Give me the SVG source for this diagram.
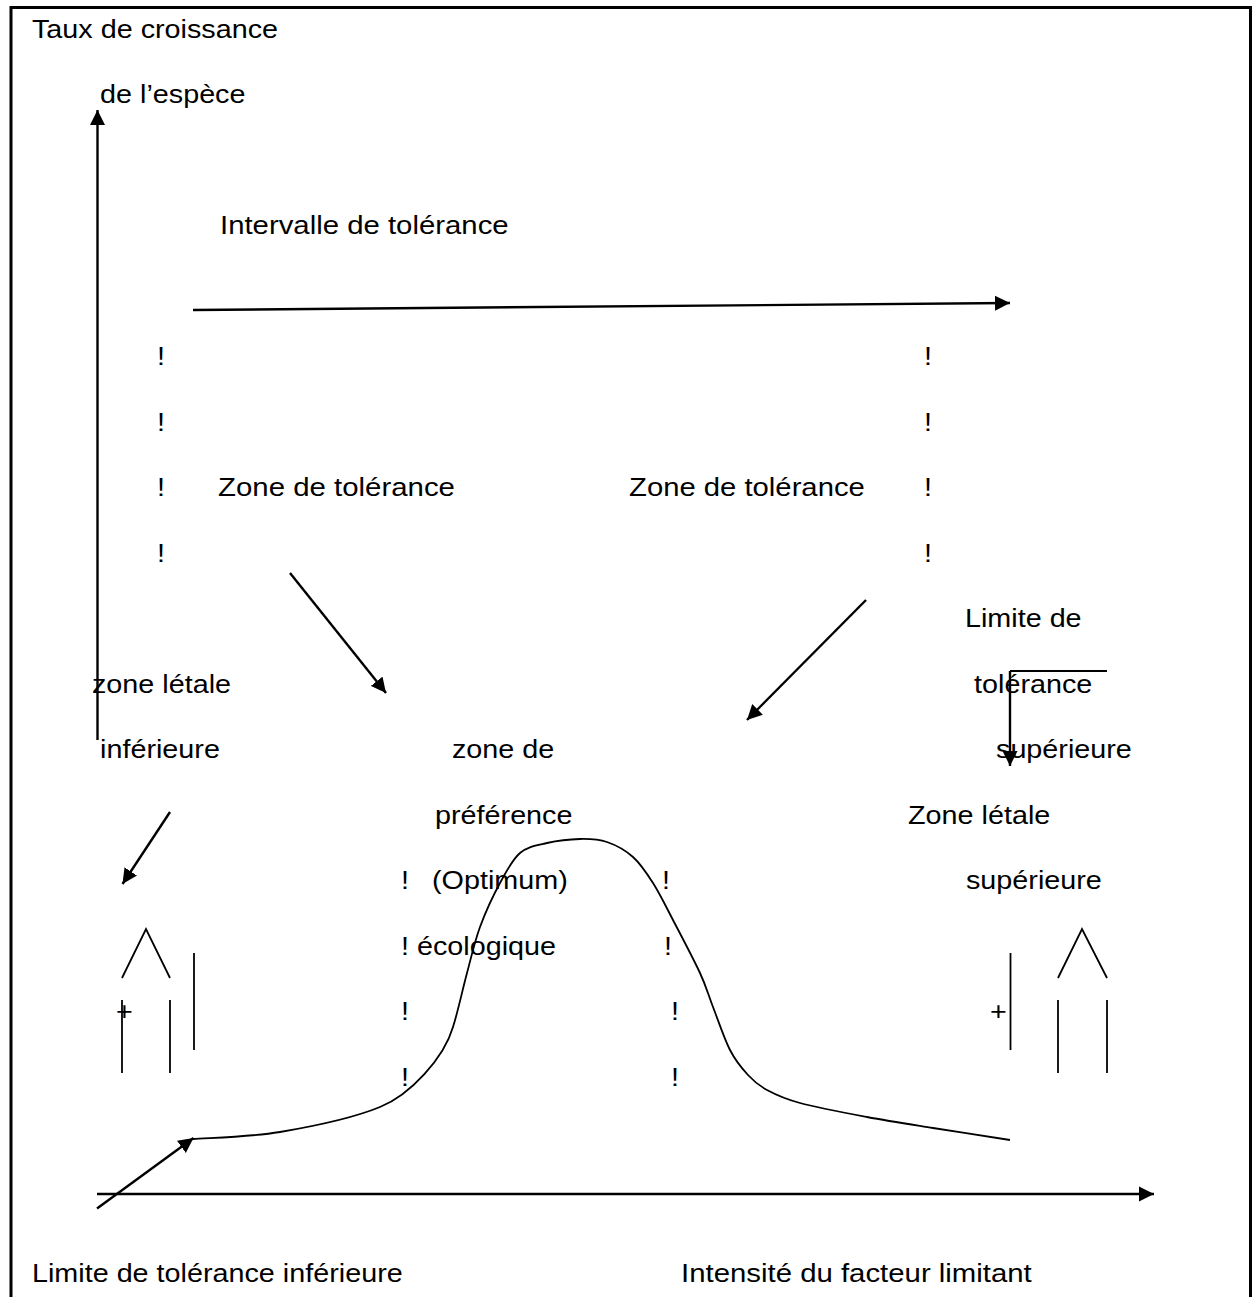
<svg xmlns="http://www.w3.org/2000/svg" width="1252" height="1297" viewBox="0 0 1252 1297">
  <style>
    text { font-family: "Liberation Sans", Arial, sans-serif; font-size: 25px; fill: #000; }
    .thin { fill: none; stroke: #000; stroke-width: 1.8; }
    .arr { fill: none; stroke: #000; stroke-width: 2.4; marker-end: url(#head); }
  </style>
  <defs>
    <marker id="head" markerUnits="userSpaceOnUse" markerWidth="16" markerHeight="16" viewBox="0 0 16 16" refX="15" refY="8" orient="auto">
      <path d="M0,0.5 L15,8 L0,15.5 z" fill="#000"/>
    </marker>
  </defs>
  <rect width="1252" height="1297" fill="#fff"/>

  <!-- page frame (bottom edge falls outside the page) -->
  <path d="M11,1297 V7.5 H1250.5 V1297" fill="none" stroke="#000" stroke-width="3"/>

  <!-- axes, arrows and bracket -->
  <g id="connectors">
    <line class="arr" x1="97.5" y1="740" x2="97.5" y2="110"/>
    <line class="arr" x1="97" y1="1194" x2="1154" y2="1194"/>
    <line class="arr" x1="193" y1="310" x2="1010" y2="303"/>
    <line class="arr" x1="290" y1="573" x2="386" y2="693"/>
    <line class="arr" x1="866" y1="600" x2="747" y2="720"/>
    <line class="arr" x1="170" y1="812" x2="122.5" y2="884"/>
    <line class="arr" x1="97" y1="1208.5" x2="193.5" y2="1138"/>
    <line class="thin" x1="1010" y1="671" x2="1107" y2="671"/>
    <line class="arr" x1="1010" y1="671" x2="1010" y2="766"/>
  </g>

  <!-- growth curve -->
  <g id="curve">
    <path class="thin" d="M193,1139 C207.5,1137.8 248.8,1137.3 280,1132 C311.2,1126.7 353.8,1117.8 380,1107 C410,1095 444,1058 453,1027 C458,1011.3 462.5,989.7 467,973 C471.5,956.3 474.5,942 480,927 C485.5,912 493.3,895.3 500,883 C506.7,870.7 512.2,859.7 520,853 C527.8,846.3 537,845.3 547,843 C557,840.7 570,839.2 580,839 C590,838.8 598.2,839 607,842 C615.8,845 625.3,850.2 633,857 C640.7,863.8 646.3,872.5 653,883 C659.7,893.5 665.2,905 673,920 C680.8,935 693.3,958.5 700,973 C706.7,987.5 708,994.2 713,1007 C718,1019.8 724.2,1038.7 730,1050 C735.8,1061.3 741.8,1068.3 748,1075 C754.2,1081.7 758.3,1085.3 767,1090 C775.7,1094.7 783.3,1098.5 800,1103 C816.7,1107.5 844.8,1112.8 867,1117 C889.2,1121.2 909.2,1124.2 933,1128 C956.8,1131.8 997.2,1138 1010,1140"/>
  </g>

  <!-- lower lethal zone symbol -->
  <g id="lower-lethal-symbol">
    <polyline class="thin" points="122,978 146,929 170,978"/>
    <line class="thin" x1="122" y1="1000" x2="122" y2="1073"/>
    <line class="thin" x1="170" y1="1000" x2="170" y2="1073"/>
    <line class="thin" x1="194" y1="953" x2="194" y2="1050"/>
  </g>

  <!-- upper lethal zone symbol -->
  <g id="upper-lethal-symbol">
    <polyline class="thin" points="1058,978 1082,929 1107,978"/>
    <line class="thin" x1="1058" y1="1000" x2="1058" y2="1073"/>
    <line class="thin" x1="1107" y1="1000" x2="1107" y2="1073"/>
    <line class="thin" x1="1010.5" y1="953" x2="1010.5" y2="1050"/>
  </g>

  <!-- labels, set in a horizontally widened face -->
  <g id="labels" transform="scale(1.15 1)">
    <g id="axis-y-label">
      <text x="27.8" y="38">Taux de croissance</text>
      <text x="87" y="103.5">de l’espèce</text>
    </g>
    <g id="interval-label">
      <text x="191.3" y="234.5" textLength="251" lengthAdjust="spacingAndGlyphs">Intervalle de tolérance</text>
    </g>
    <g id="tolerance-bounds">
      <text x="136.5" y="365.5">!</text>
      <text x="136.5" y="431">!</text>
      <text x="136.5" y="496.5">!</text>
      <text x="136.5" y="562">!</text>
      <text x="803.5" y="365.5">!</text>
      <text x="803.5" y="431">!</text>
      <text x="803.5" y="496.5">!</text>
      <text x="803.5" y="562">!</text>
    </g>
    <g id="tolerance-zones">
      <text x="189.6" y="496.5" textLength="206" lengthAdjust="spacingAndGlyphs">Zone de tolérance</text>
      <text x="547" y="496.5" textLength="205" lengthAdjust="spacingAndGlyphs">Zone de tolérance</text>
    </g>
    <g id="upper-limit-label">
      <text x="839.1" y="627.5">Limite de</text>
      <text x="847" y="693">tolérance</text>
      <text x="866.1" y="758.5">supérieure</text>
    </g>
    <g id="lower-lethal-label">
      <text x="80" y="693">zone létale</text>
      <text x="87" y="758.5">inférieure</text>
    </g>
    <g id="preference-label">
      <text x="393" y="758.5">zone de</text>
      <text x="378.3" y="824">préférence</text>
      <text x="375.7" y="889.5">(Optimum)</text>
      <text x="362.6" y="955">écologique</text>
    </g>
    <g id="upper-lethal-label">
      <text x="789.6" y="824">Zone létale</text>
      <text x="840" y="889.5">supérieure</text>
    </g>
    <g id="optimum-bounds">
      <text x="348.7" y="889.5">!</text>
      <text x="348.7" y="955">!</text>
      <text x="348.7" y="1020.5">!</text>
      <text x="348.7" y="1086">!</text>
      <text x="575.7" y="889.5">!</text>
      <text x="577.4" y="955">!</text>
      <text x="583.5" y="1020.5">!</text>
      <text x="583.5" y="1086">!</text>
    </g>
    <g id="plus-signs">
      <text x="100.9" y="1020.5">+</text>
      <text x="860.9" y="1020.5">+</text>
    </g>
    <g id="bottom-labels">
      <text x="27.8" y="1282">Limite de tolérance inférieure</text>
      <text x="592.2" y="1282" textLength="305" lengthAdjust="spacingAndGlyphs">Intensité du facteur limitant</text>
    </g>
  </g>
</svg>
